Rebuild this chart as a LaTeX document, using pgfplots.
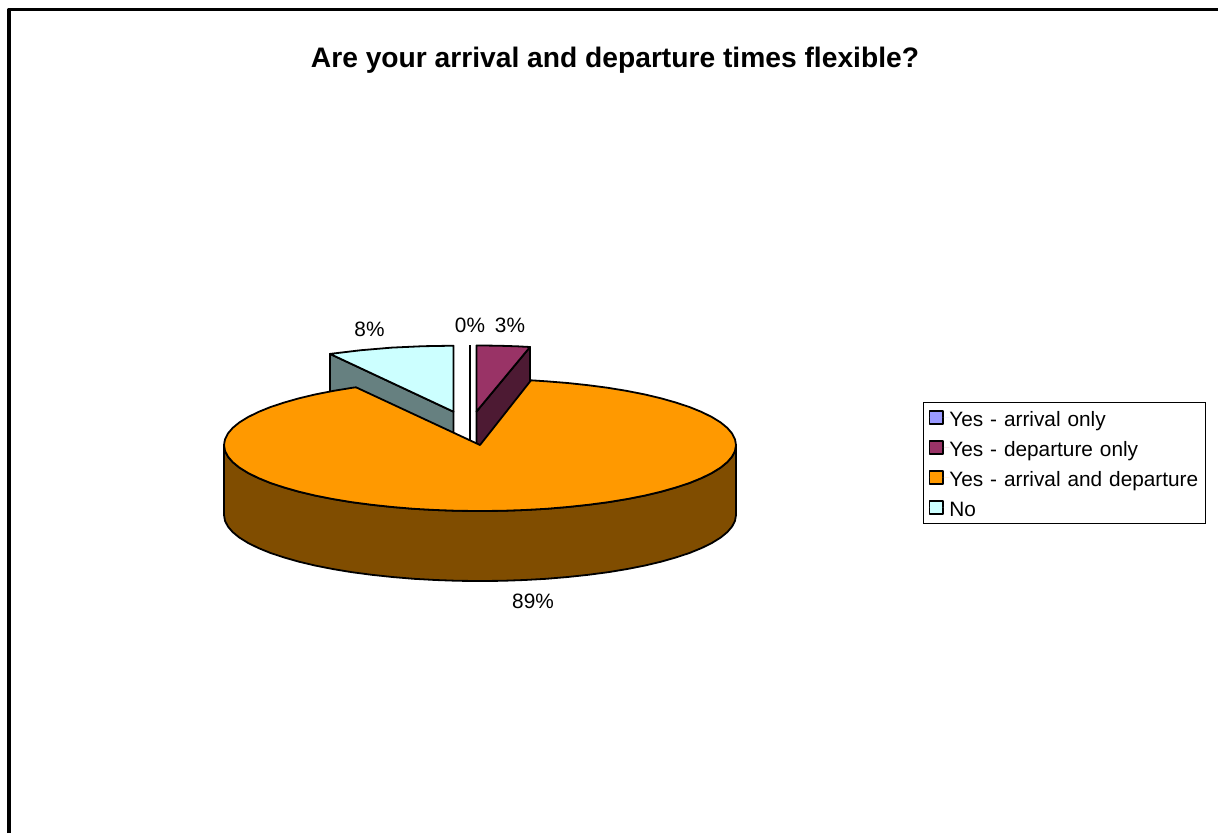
\documentclass[border=0pt]{standalone}
\usepackage{pgfplots}
\pgfplotsset{compat=1.18}
\usepackage{fontspec}
\setmainfont{Liberation Sans}
\definecolor{sliceA}{HTML}{9999FF}
\definecolor{sliceB}{HTML}{993366}
\definecolor{sliceBside}{HTML}{4D1A33}
\definecolor{sliceC}{HTML}{FF9900}
\definecolor{sliceCside}{HTML}{804D00}
\definecolor{sliceD}{HTML}{CCFFFF}
\definecolor{sliceDside}{HTML}{668080}
\newcommand{\lbl}{\fontsize{20.8}{25}\selectfont}
\begin{document}
\begin{tikzpicture}
\begin{axis}[
  scale only axis, width=1218pt, height=833pt,
  xmin=0, xmax=1218, ymin=0, ymax=833, y dir=reverse,
  hide axis,
  legend cell align=left,
  legend image code/.code={
    \draw[#1, line width=1.6pt] (0.5pt,-6.5pt) rectangle (14pt,6.5pt);
    \path[draw=none] (0pt,0pt) -- (20.5pt,0pt);
  },
  legend style={
    at={(axis cs:923,402)}, anchor=north west,
    draw=black, line width=1pt, fill=white,
    font=\lbl, inner xsep=5pt, inner ysep=5.5pt,
    row sep=10.5pt,
    nodes={inner sep=0pt, text height=18.5pt, text depth=1pt},
    /tikz/column 2/.style={nodes={text width=251.5pt}},
  },
  every axis plot/.append style={line join=round, line width=1.8pt},
]
% white page behind the chart; it also fixes the picture's extent
\addplot[forget plot, draw=none, fill=white] coordinates {(0,0) (1218,0) (1218,833) (0,833)} -- cycle;

% chart frame, open towards the right and bottom edges
\addplot[forget plot, black, line width=3.5pt, sharp plot] coordinates {(9,833) (9,9.5) (1218,9.5)};

% "No" slice, pulled out of the pie
\addplot[forget plot, draw=black, fill=sliceDside] coordinates {
  (330,353.9) (453.5,411.7) (453.5,481.7) (330,423.9)} -- cycle;
\addplot[forget plot, draw=black, fill=sliceD] coordinates {
  (453.5,411.7) (453.5,345.7) (423,346.2) (392,347.6) (361,350.2) (330,353.9)} -- cycle;

% zero-width "arrival only" slice
\addplot[forget plot, black, line width=2pt] coordinates {(470,345) (470,480)};

% "departure only" slice
\addplot[forget plot, draw=black, fill=sliceBside] coordinates {
  (530,347) (476.5,411.5) (476.5,481.5) (530,417)} -- cycle;
\addplot[forget plot, draw=black, fill=sliceB] coordinates {
  (476.5,411.5) (476.5,345.5) (490,345.6) (503,345.85) (517,346.3) (530,347)} -- cycle;

% wall of the large slice
\addplot[forget plot, draw=black, fill=sliceCside] coordinates {
  (736,445) (735,450.8) (732.1,456.5) (727.3,462.1) (720.6,467.6) (712,472.9)
  (701.7,478) (689.7,482.9) (676.1,487.4) (661,491.7) (644.6,495.6) (626.8,499.1)
  (608,502.2) (588.2,504.8) (567.6,507) (546.3,508.8) (524.5,510) (502.3,510.8)
  (480,511) (457.7,510.8) (435.5,510) (413.7,508.8) (392.4,507) (371.8,504.8)
  (352,502.2) (333.2,499.1) (315.4,495.6) (299,491.7) (283.9,487.4) (270.3,482.9)
  (258.3,478) (248,472.9) (239.4,467.6) (232.7,462.1) (227.9,456.5) (225,450.8)
  (224,445)
  (224,515) (225,520.8) (227.9,526.5) (232.7,532.1) (239.4,537.6) (248,542.9)
  (258.3,548) (270.3,552.9) (283.9,557.4) (299,561.7) (315.4,565.6) (333.2,569.1)
  (352,572.2) (371.8,574.8) (392.4,577) (413.7,578.8) (435.5,580) (457.7,580.8)
  (480,581) (502.3,580.8) (524.5,580) (546.3,578.8) (567.6,577) (588.2,574.8)
  (608,572.2) (626.8,569.1) (644.6,565.6) (661,561.7) (676.1,557.4) (689.7,552.9)
  (701.7,548) (712,542.9) (720.6,537.6) (727.3,532.1) (732.1,526.5) (735,520.8)
  (736,515)} -- cycle;

% top of the large slice
\addplot[forget plot, draw=black, fill=sliceC] coordinates {
  (480,445) (531,380.3) (546.3,381.3) (567.6,383) (588.2,385.2) (608,387.8)
  (626.8,390.9) (644.6,394.4) (661,398.3) (676.1,402.6) (689.7,407.1) (701.7,412)
  (712,417.1) (720.6,422.4) (727.3,427.9) (732.1,433.5) (735,439.3) (736,445)
  (735,450.8) (732.1,456.5) (727.3,462.1) (720.6,467.6) (712,472.9)
  (701.7,478) (689.7,482.9) (676.1,487.4) (661,491.7) (644.6,495.6) (626.8,499.1)
  (608,502.2) (588.2,504.8) (567.6,507) (546.3,508.8) (524.5,510) (502.3,510.8)
  (480,511) (457.7,510.8) (435.5,510) (413.7,508.8) (392.4,507) (371.8,504.8)
  (352,502.2) (333.2,499.1) (315.4,495.6) (299,491.7) (283.9,487.4) (270.3,482.9)
  (258.3,478) (248,472.9) (239.4,467.6) (232.7,462.1) (227.9,456.5) (225,450.8)
  (224,445) (225,439.3) (227.9,433.5) (232.7,427.9) (239.4,422.4) (248,417.1)
  (258.3,412) (270.3,407.1) (283.9,402.6) (299,398.3) (315.4,394.4) (333.2,390.9)
  (352,387.8) (356,387.3)} -- cycle;

% legend entries
\addlegendimage{draw=black, fill=sliceA}
\addlegendentry{Yes - arrival only}
\addlegendimage{draw=black, fill=sliceB}
\addlegendentry{Yes - departure only}
\addlegendimage{draw=black, fill=sliceC}
\addlegendentry{Yes - arrival and departure}
\addlegendimage{draw=black, fill=sliceD}
\addlegendentry{No}

% title and percentage labels
\node[font=\fontsize{28.2}{34}\selectfont\bfseries, anchor=center] at (axis cs:615,60) {Are your arrival and departure times flexible?};
\node[font=\lbl] at (axis cs:369.5,329) {8\%};
\node[font=\lbl] at (axis cs:470,325) {0\%};
\node[font=\lbl] at (axis cs:510,325) {3\%};
\node[font=\lbl] at (axis cs:533,601) {89\%};
\end{axis}
\end{tikzpicture}
\end{document}
